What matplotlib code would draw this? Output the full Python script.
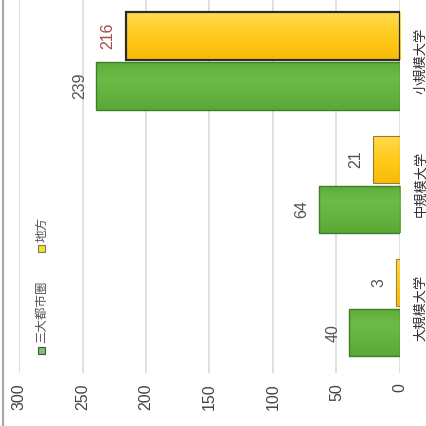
import matplotlib
matplotlib.use("Agg")
import matplotlib.pyplot as plt
from matplotlib.patches import Rectangle
from matplotlib.colors import LinearSegmentedColormap
import numpy as np

# University size groups and student counts by region
categories = ["大規模大学", "中規模大学", "小規模大学"]
metro_values = [40, 64, 239]      # 三大都市圏
local_values = [3, 21, 216]       # 地方
value_ticks = [0, 50, 100, 150, 200, 250, 300]
legend_labels = ["三大都市圏", "地方"]

CJK = ["Noto Sans CJK JP", "DejaVu Sans"]
NUM = ["Liberation Sans", "DejaVu Sans"]

W, H = 427, 426
fig = plt.figure(figsize=(W / 100, H / 100), dpi=100)
fig.patch.set_facecolor("white")

# value 300 at x=19, value 0 at x=400, plot area from top down to y=373
ax = fig.add_axes([19 / W, (H - 373) / H, 381 / W, 373 / H])
ax.set_xlim(300, 0)
ax.set_ylim(-0.53, 2.495)
for s in ax.spines.values():
    s.set_visible(False)

for v in value_ticks:
    ax.axvline(v, color="#dadada", lw=1.2, zorder=0)

pos = np.arange(len(categories))
h = 0.385
off = 0.203
green_cmap = LinearSegmentedColormap.from_list(
    "g", ["#5aa836", "#64b33f", "#6dbb47", "#5eab3a"])
yellow_cmap = LinearSegmentedColormap.from_list(
    "y", ["#f7bb08", "#ffc614", "#ffcf2a", "#ffdc50"])
grad = np.linspace(0, 1, 64).reshape(-1, 1)


def shaded_bar(y, v, cmap, edge, lw):
    bar = ax.barh(y, v, height=h, color="none", edgecolor=edge,
                  linewidth=lw, zorder=4)[0]
    im = ax.imshow(grad, cmap=cmap, aspect="auto", origin="lower",
                   extent=(v, 0, y - h / 2, y + h / 2), zorder=3)
    im.set_clip_path(bar)


for i, v in enumerate(metro_values):
    shaded_bar(pos[i] - off, v, green_cmap, "#3f7f28", 1.0)
local_edges = ["#a08430", "#9a7a30", "#2b2b2b"]
local_lw = [0.8, 0.8, 1.6]
for i, v in enumerate(local_values):
    shaded_bar(pos[i] + off, v, yellow_cmap, local_edges[i], local_lw[i])

ax.set_xlim(300, 0)
ax.set_ylim(-0.53, 2.495)

# value labels beyond bar ends
for i, v in enumerate(metro_values):
    ax.annotate(str(v), xy=(v, pos[i] - off), xytext=(-9, 0),
                textcoords="offset pixels", rotation=90, ha="right", va="center",
                fontsize=11.5, family=NUM, color="#555555")
local_colors = ["#555555", "#555555", "#a34a4a"]
for i, v in enumerate(local_values):
    ax.annotate(str(v), xy=(v, pos[i] + off), xytext=(-10, 0),
                textcoords="offset pixels", rotation=90, ha="right", va="center",
                fontsize=11.5, family=NUM, color=local_colors[i])

# value axis ticks along the bottom
ax.set_xticks(value_ticks)
ax.set_xticklabels([str(t) for t in value_ticks], rotation=90, family=NUM,
                   fontsize=11.5, color="#444444")
ax.tick_params(axis="x", length=0, pad=7.5)
ax.set_yticks([])

# category labels on the right side
for i, c in enumerate(categories):
    ax.annotate(c, xy=(1, pos[i]), xycoords=("axes fraction", "data"),
                xytext=(14, 0), textcoords="offset pixels", rotation=90,
                ha="left", va="center", fontsize=9.5, family=CJK, color="#2e2e2e",
                annotation_clip=False)

# legend drawn vertically
def fig_px(x, y):
    return x / W, (H - y) / H

sq = 7
for (yc, fc, ec) in [(350, "#7cc36a", "#4d4d4d"), (248, "#f2e41a", "#7a7a7a")]:
    x0, y0 = fig_px(42 - sq / 2, yc + sq / 2)
    fig.patches.append(Rectangle((x0, y0), sq / W, sq / H, transform=fig.transFigure,
                                 facecolor=fc, edgecolor=ec, linewidth=0.8))
fig.text(*fig_px(42, 343), legend_labels[0], rotation=90, ha="center", va="bottom",
         fontsize=9, family=CJK, color="#555555")
fig.text(*fig_px(42, 242), legend_labels[1], rotation=90, ha="center", va="bottom",
         fontsize=9, family=CJK, color="#555555")

# outer frame edge on the left
fig.add_artist(plt.Line2D([3 / W, 3 / W], [0, 1], transform=fig.transFigure,
                          color="#a8a8a8", lw=1.6))

fig.savefig("out.png", dpi=100, facecolor="white")
